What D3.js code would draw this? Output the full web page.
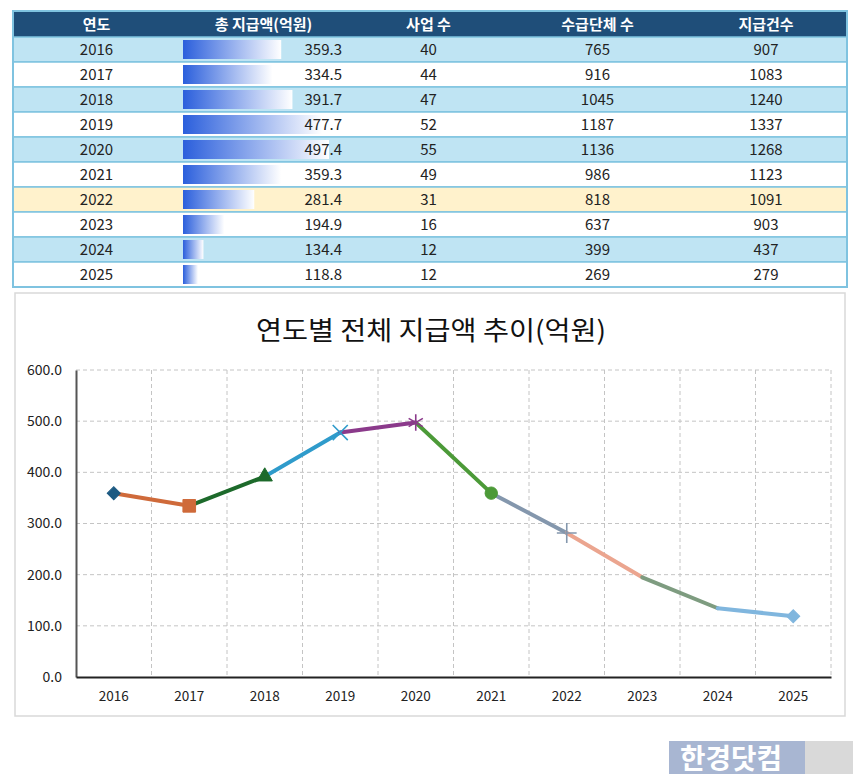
<!DOCTYPE html>
<html>
<head>
<meta charset="utf-8">
<script src="https://cdn.jsdelivr.net/npm/d3@7"></script>
<style>
  body { margin: 0; background: #fff; }
  text { font-family: "Noto Sans CJK KR", "Noto Sans", sans-serif; }
</style>
</head>
<body>
<div id="chart"></div>
<script>
const width = 860,
  height = 781;

// data
const years = ["2016", "2017", "2018", "2019", "2020", "2021", "2022", "2023", "2024", "2025"];
const amounts = [359.3, 334.5, 391.7, 477.7, 497.4, 359.3, 281.4, 194.9, 134.4, 118.8];
const projects = [40, 44, 47, 52, 55, 49, 31, 16, 12, 12];
const recipients = [765, 916, 1045, 1187, 1136, 986, 818, 637, 399, 269];
const payments = [907, 1083, 1240, 1337, 1268, 1123, 1091, 903, 437, 279];
const headers = ["연도", "총 지급액(억원)", "사업 수", "수급단체 수", "지급건수"];
const yTicks = [0, 100, 200, 300, 400, 500, 600];
const pointColors = ["#1d5a82", "#cf6a3a", "#1d6a2b", "#2f9bcb", "#8b3a8b", "#4c9a38", "#8497ad", "#eba58f", "#7e9c80", "#80b6de"];
const pointShapes = ["diamond", "square", "triangle", "times", "asterisk", "circle", "plus", "none", "none", "diamond"];

const svg = d3
  .select("#chart")
  .append("svg")
  .attr("width", width)
  .attr("height", height);

// ---------- table ----------
const colEdges = [13, 180, 347, 510, 685, 847];
const headTop = 11,
  headH = 26,
  rowH = 25;
const rowY = d3.scaleBand().domain(years).range([headTop + headH, headTop + headH + rowH * years.length]);

const defs = svg.append("defs");
const grad = defs.append("linearGradient").attr("id", "barGrad");
grad.append("stop").attr("offset", "0%").attr("stop-color", "#2b5fdc");
grad.append("stop").attr("offset", "100%").attr("stop-color", "#ffffff");

svg.append("rect")
  .attr("x", colEdges[0]).attr("y", headTop)
  .attr("width", colEdges[5] - colEdges[0]).attr("height", headH)
  .attr("fill", "#1f4e79");

headers.forEach(function (h, i) {
  svg.append("text")
    .attr("x", (colEdges[i] + colEdges[i + 1]) / 2)
    .attr("y", headTop + headH / 2 + 5.5)
    .attr("text-anchor", "middle")
    .attr("font-size", 15)
    .attr("font-weight", "bold")
    .attr("fill", "#fff")
    .text(h);
});

const rows = svg.selectAll(".row")
  .data(years)
  .enter()
  .append("g")
  .attr("class", "row")
  .attr("transform", d => `translate(0,${rowY(d)})`);

rows.append("rect")
  .attr("x", colEdges[0]).attr("width", colEdges[5] - colEdges[0])
  .attr("height", rowH)
  .attr("fill", (d, i) => (d === "2022" ? "#fff2cc" : i % 2 === 0 ? "#bfe4f3" : "#ffffff"))
  .attr("stroke", "#7fc3e0")
  .attr("stroke-width", 1.5);

const barLen = d3.scaleLinear().domain([d3.min(amounts), d3.max(amounts)]).range([15, 146]);
rows.append("rect")
  .attr("x", 183).attr("y", 3)
  .attr("width", (d, i) => barLen(amounts[i]))
  .attr("height", rowH - 6)
  .attr("fill", "url(#barGrad)");

const cells = [
  (d, i) => years[i],
  (d, i) => amounts[i].toFixed(1),
  (d, i) => projects[i],
  (d, i) => recipients[i],
  (d, i) => payments[i],
];
cells.forEach(function (fn, c) {
  rows.append("text")
    .attr("x", c === 1 ? 342 : (colEdges[c] + colEdges[c + 1]) / 2)
    .attr("y", rowH / 2 + 5.5)
    .attr("text-anchor", c === 1 ? "end" : "middle")
    .attr("font-size", 15)
    .attr("fill", "#222")
    .text(fn);
});

svg.append("rect")
  .attr("x", colEdges[0]).attr("y", headTop)
  .attr("width", colEdges[5] - colEdges[0]).attr("height", headH + rowH * years.length)
  .attr("fill", "none").attr("stroke", "#7fc3e0").attr("stroke-width", 2);

// ---------- line chart ----------
svg.append("rect")
  .attr("x", 15).attr("y", 293).attr("width", 830).attr("height", 423)
  .attr("fill", "#fff").attr("stroke", "#d9d9d9").attr("stroke-width", 1.5);

svg.append("text")
  .attr("x", 431).attr("y", 340)
  .attr("text-anchor", "middle")
  .attr("font-size", 26)
  .attr("fill", "#111")
  .attr("textLength", 350)
  .attr("lengthAdjust", "spacingAndGlyphs")
  .text("연도별 전체 지급액 추이(억원)");

const x = d3.scaleBand().domain(years).range([76, 831]);
const y = d3.scaleLinear().domain([0, 600]).range([677, 370]);

// gridlines
svg.append("g")
  .selectAll("line")
  .data(yTicks.slice(1))
  .enter()
  .append("line")
  .attr("x1", 76).attr("x2", 831)
  .attr("y1", d => y(d)).attr("y2", d => y(d))
  .attr("stroke", "#c4c4c4").attr("stroke-dasharray", "4,3");

svg.append("g")
  .selectAll("line")
  .data(years)
  .enter()
  .append("line")
  .attr("x1", d => x(d) + x.bandwidth()).attr("x2", d => x(d) + x.bandwidth())
  .attr("y1", y(600)).attr("y2", y(0))
  .attr("stroke", "#c4c4c4").attr("stroke-dasharray", "4,3");

// axes
const yAxis = svg.append("g")
  .attr("transform", "translate(76,0)")
  .call(d3.axisLeft(y).tickValues(yTicks).tickFormat(d3.format(".1f")).tickSize(0).tickPadding(14));
yAxis.select(".domain").attr("stroke", "#555").attr("stroke-width", 2);
yAxis.selectAll("text").attr("font-size", 14).attr("fill", "#222");

const xAxis = svg.append("g")
  .attr("transform", `translate(0,${y(0)})`)
  .call(d3.axisBottom(x).tickSize(0).tickPadding(14));
xAxis.select(".domain").attr("stroke", "#222").attr("stroke-width", 2);
xAxis.selectAll("text").attr("font-size", 13.5).attr("fill", "#222");

// line segments, each coloured like the point it ends at
const pts = years.map((d, i) => [x(d) + x.bandwidth() / 2, y(amounts[i])]);
const line = d3.line();
svg.append("g")
  .selectAll("path")
  .data(d3.pairs(pts))
  .enter()
  .append("path")
  .attr("d", d => line(d))
  .attr("stroke", (d, i) => pointColors[i + 1])
  .attr("stroke-width", 4)
  .attr("stroke-linecap", "round")
  .attr("fill", "none");

// markers: [symbol, size, filled, rotation]
const shapeMap = {
  diamond: [d3.symbolSquare, 85, true, 45],
  square: [d3.symbolSquare, 160, true, 0],
  triangle: [d3.symbolTriangle, 100, true, 0],
  times: [d3.symbolTimes || d3.symbolCross, 150, false, 0],
  asterisk: [d3.symbolAsterisk || d3.symbolStar, 190, false, 0],
  circle: [d3.symbolCircle, 120, true, 0],
  plus: [d3.symbolPlus || d3.symbolCross, 130, false, 0],
};
const marked = pts.map((p, i) => ({ p: p, i: i })).filter(d => pointShapes[d.i] !== "none");
svg.append("g")
  .selectAll("path")
  .data(marked)
  .enter()
  .append("path")
  .each(function (d) {
    const s = shapeMap[pointShapes[d.i]];
    d3.select(this)
      .attr("transform", `translate(${d.p[0]},${d.p[1]}) rotate(${s[3]})`)
      .attr("d", d3.symbol().type(s[0]).size(s[1]))
      .attr("fill", s[2] ? pointColors[d.i] : "none")
      .attr("stroke", pointColors[d.i])
      .attr("stroke-width", s[2] ? 1 : 1.6);
  });

// watermark
svg.append("rect").attr("x", 669).attr("y", 741).attr("width", 136).attr("height", 33).attr("fill", "#a8b6d2");
svg.append("rect").attr("x", 805).attr("y", 741).attr("width", 48).attr("height", 33).attr("fill", "#d9d9d9");
svg.append("text")
  .attr("x", 680).attr("y", 769)
  .attr("font-size", 28)
  .attr("font-weight", "bold")
  .attr("fill", "#fff")
  .attr("textLength", 102)
  .attr("lengthAdjust", "spacingAndGlyphs")
  .text("한경닷컴");
</script>
</body>
</html>
